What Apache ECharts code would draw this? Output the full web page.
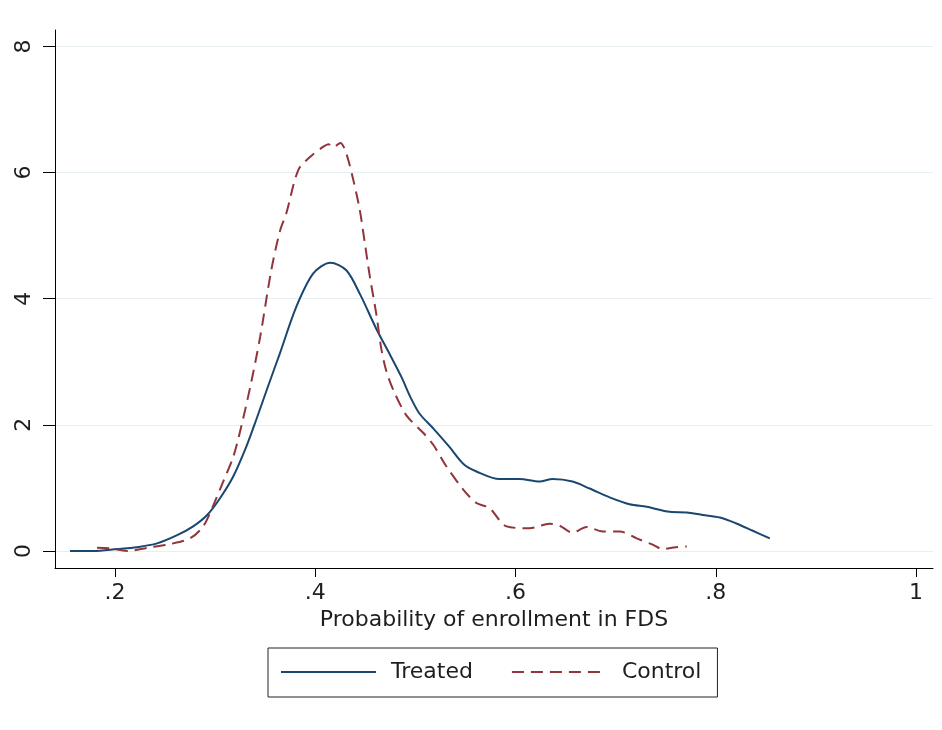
<!DOCTYPE html>
<html>
<head>
<meta charset="utf-8">
<script src="https://cdn.jsdelivr.net/npm/echarts@6/dist/echarts.min.js"></script>
<style>html,body{margin:0;padding:0;background:#fff;}#c{width:942px;height:730px;}</style>
</head>
<body>
<div id="c"></div>
<script>
const xTicks = [0.2, 0.4, 0.6, 0.8, 1];
const xTickLabels = ['.2', '.4', '.6', '.8', '1'];
const yTicks = [0, 2, 4, 6, 8];
const xTitle = 'Probability of enrollment in FDS';
const seriesNames = ['Treated', 'Control'];

const treatedX = [0.155,0.178,0.202,0.222,0.242,0.262,0.278,0.292,0.305,0.318,0.331,0.341,0.353,0.365,0.381,0.398,0.415,0.431,0.445,0.461,0.474,0.486,0.495,0.504,0.518,0.534,0.548,0.561,0.584,0.604,0.624,0.637,0.657,0.674,0.694,0.714,0.731,0.754,0.771,0.787,0.804,0.820,0.837,0.854];
const treatedY = [0,0.00,0.03,0.06,0.12,0.25,0.39,0.57,0.84,1.18,1.65,2.08,2.62,3.15,3.87,4.40,4.57,4.45,4.06,3.52,3.13,2.76,2.44,2.18,1.94,1.65,1.38,1.26,1.14,1.14,1.10,1.14,1.10,0.99,0.85,0.74,0.70,0.62,0.61,0.57,0.53,0.44,0.32,0.20];

const controlX = [0.182,0.195,0.212,0.232,0.255,0.275,0.288,0.298,0.308,0.318,0.326,0.335,0.345,0.356,0.365,0.371,0.383,0.395,0.408,0.413,0.418,0.425,0.431,0.438,0.4445,0.4495,0.4545,0.461,0.466,0.471,0.478,0.491,0.508,0.518,0.531,0.548,0.561,0.574,0.591,0.614,0.634,0.644,0.657,0.671,0.687,0.704,0.721,0.737,0.747,0.760,0.771];
const controlY = [0.05,0.04,0.00,0.05,0.11,0.20,0.39,0.72,1.10,1.49,1.97,2.60,3.40,4.45,5.09,5.35,6.04,6.25,6.41,6.45,6.40,6.47,6.30,5.88,5.40,4.88,4.35,3.75,3.20,2.85,2.55,2.15,1.87,1.68,1.34,0.97,0.76,0.68,0.39,0.36,0.43,0.40,0.29,0.38,0.31,0.31,0.20,0.10,0.03,0.06,0.07];

const zip = (xs, ys) => xs.map((x, i) => [x, ys[i]]);
const FONT = '"DejaVu Sans", "Liberation Sans", Arial, sans-serif';
const TXT = '#1e1e1e';
const FS = 22;

const chart = echarts.init(document.getElementById('c'), null, {renderer: 'canvas'});
chart.setOption({
  animation: false,
  backgroundColor: '#ffffff',
  textStyle: {fontFamily: FONT},
  grid: {left: 55, right: 9, top: 30, bottom: 162, containLabel: false},
  xAxis: {
    type: 'value', min: 0.14, max: 1.017,
    name: xTitle, nameLocation: 'middle', nameGap: 40,
    nameTextStyle: {fontSize: FS, color: TXT, fontFamily: FONT},
    axisLine: {show: true, onZero: false, lineStyle: {color: '#000', width: 1}},
    axisTick: {show: true, length: 9, customValues: xTicks, lineStyle: {color: '#000'}},
    axisLabel: {customValues: xTicks, fontSize: FS, color: TXT, margin: 14, fontFamily: FONT,
      formatter: v => { const i = xTicks.findIndex(t => Math.abs(t - v) < 1e-6); return i >= 0 ? xTickLabels[i] : ''; }},
    splitLine: {show: false}
  },
  yAxis: {
    type: 'value', min: -0.27, max: 8.26,
    axisLine: {show: true, onZero: false, lineStyle: {color: '#000', width: 1}},
    axisTick: {show: true, length: 12, customValues: yTicks, lineStyle: {color: '#000'}},
    axisLabel: {customValues: yTicks, fontSize: FS, color: TXT, margin: 20, rotate: 90, fontFamily: FONT},
    splitLine: {show: true, lineStyle: {color: '#e6eef1', width: 1}}
  },
  legend: {
    left: 268, top: 648,
    padding: [13, 16, 14, 12],
    borderColor: '#222', borderWidth: 1,
    itemWidth: 95, itemHeight: 14, itemGap: 38,
    itemStyle: {opacity: 0},
    textStyle: {fontSize: FS, color: TXT, fontFamily: FONT, padding: [0, 0, 0, 10]},
    data: seriesNames
  },
  series: [
    {name: seriesNames[0], type: 'line', data: zip(treatedX, treatedY), showSymbol: false, symbol: 'none', smooth: 0.3,
     lineStyle: {color: '#1a476f', width: 2}, itemStyle: {color: '#1a476f'}},
    {name: seriesNames[1], type: 'line', data: zip(controlX, controlY), showSymbol: false, symbol: 'none', smooth: 0.3,
     lineStyle: {color: '#90353b', width: 2, type: [12, 7]}, itemStyle: {color: '#90353b'}}
  ]
});
</script>
</body>
</html>
